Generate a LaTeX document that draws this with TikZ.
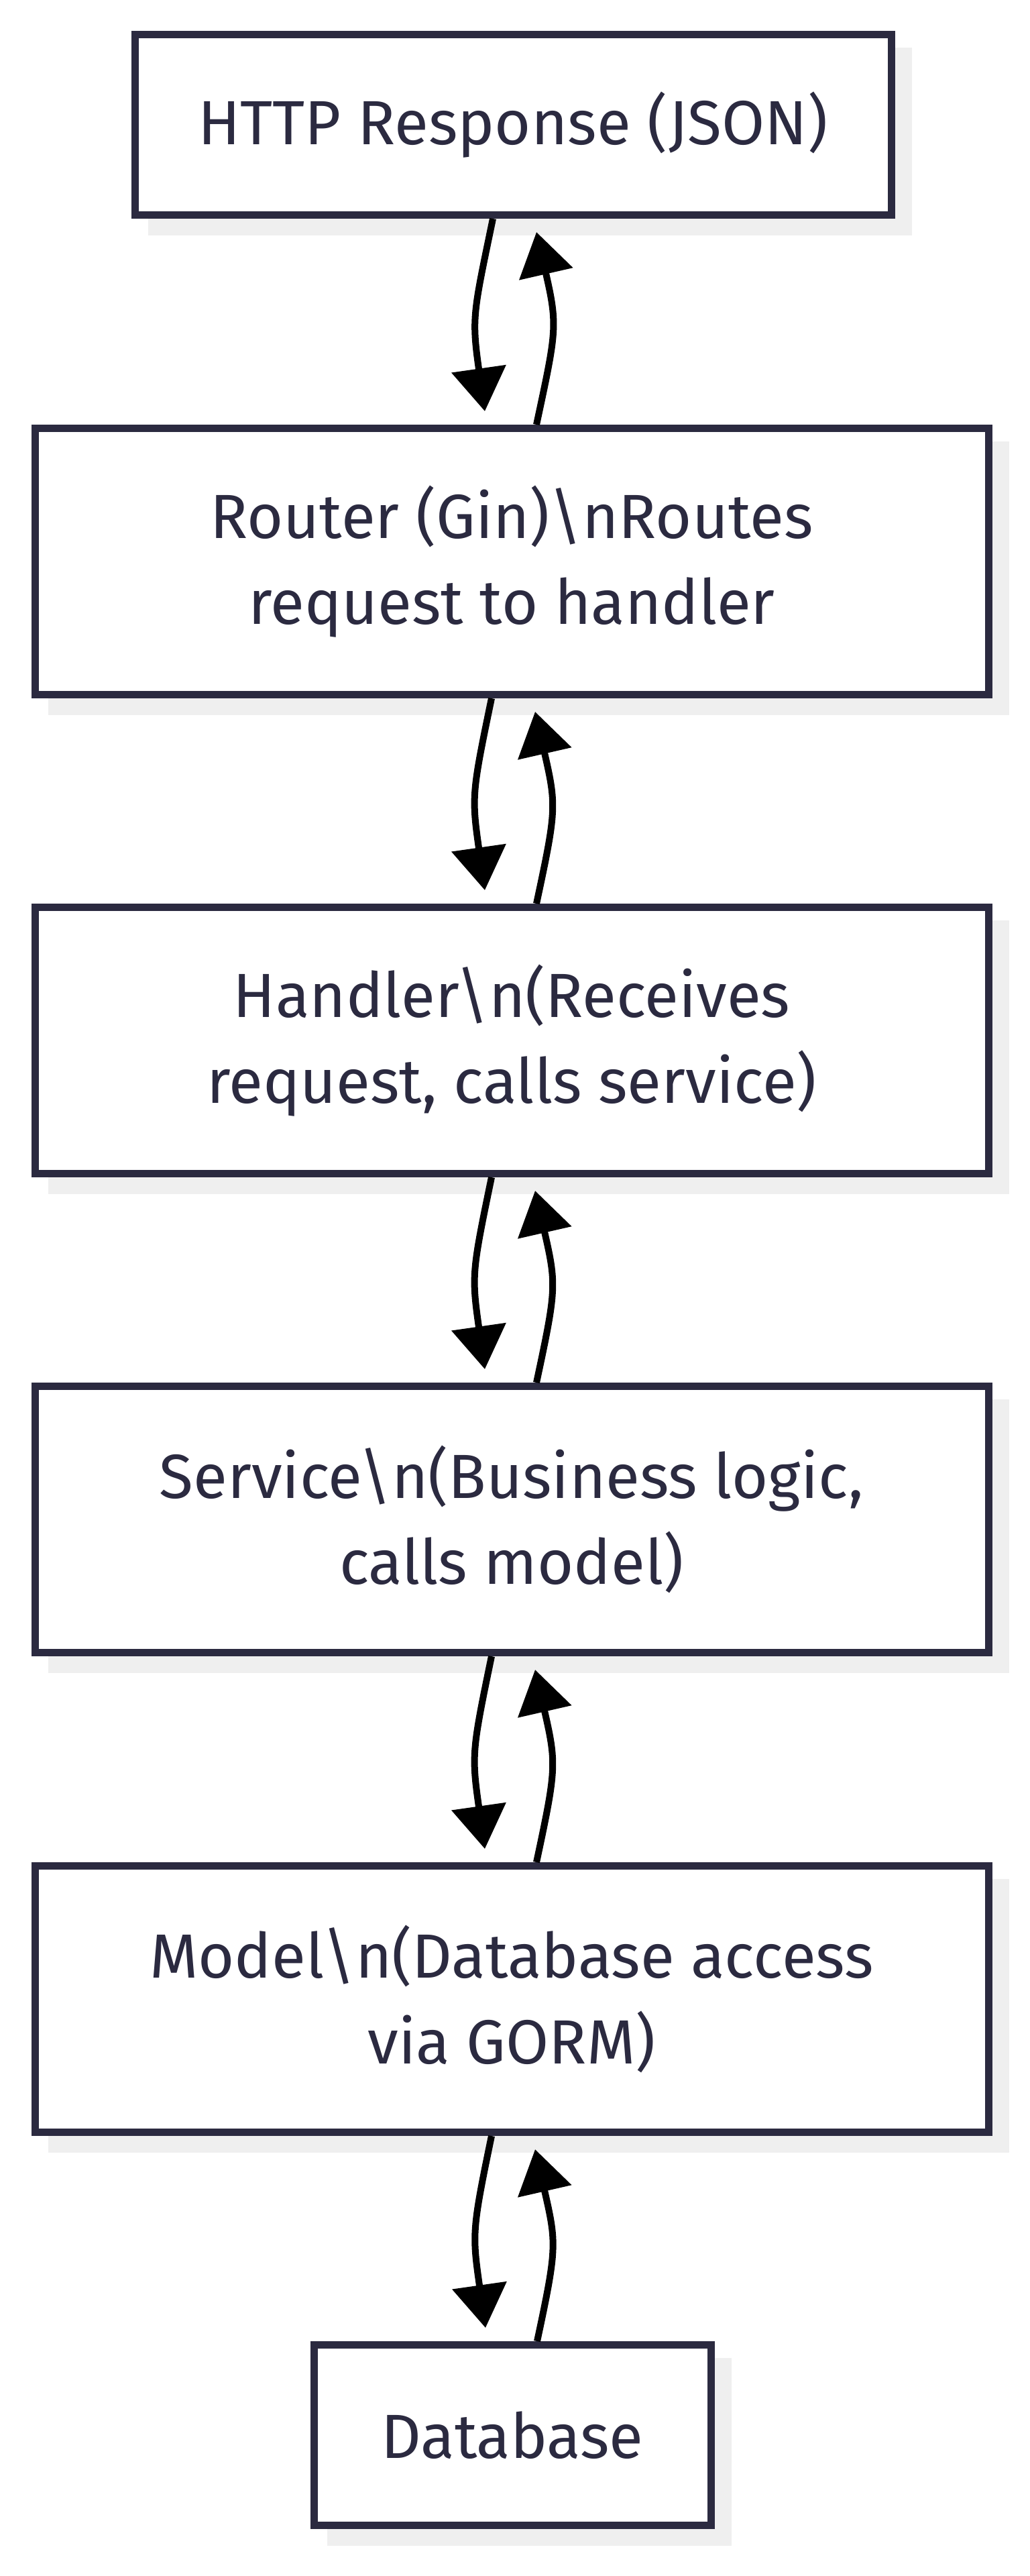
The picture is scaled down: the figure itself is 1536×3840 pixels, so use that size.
\documentclass[tikz,border=0pt]{standalone}
\usepackage{fontspec}
\setmainfont{Fira Sans}
\usetikzlibrary{arrows.meta,shadows,calc}
\definecolor{layerline}{HTML}{2B2A40}
\definecolor{layertext}{HTML}{2B2A40}
\definecolor{layershade}{HTML}{EFEFEF}
\tikzset{
  layer/.style={draw=layerline, line width=5.5pt, fill=white, text=layertext,
    align=center, inner sep=0pt, font=\fontsize{46.5}{64}\selectfont,
    drop shadow={shadow xshift=12.5pt, shadow yshift=-12.5pt, fill=layershade,
      draw=layershade, line width=5.5pt, opacity=1}},
  flow/.style={line width=5pt, -{Triangle[length=32pt,width=40pt]}}
}
\begin{document}
\begin{tikzpicture}[x=0.5pt,y=0.5pt,yscale=-1,xscale=1]
\useasboundingbox (0,0) rectangle (1536,3840); %page is 1536 wide, 3840 high

%Layers
\node[layer, minimum width=564pt, minimum height=134.5pt] (resp) at (765,186) {HTTP Response (JSON)};
\node[layer, minimum width=711pt, minimum height=198.5pt] (router) at (763,837) {Router (Gin)\textbackslash nRoutes\\request to handler};
\node[layer, minimum width=711pt, minimum height=198.5pt] (handler) at (763,1551) {Handler\textbackslash n(Receives\\request, calls service)};
\node[layer, minimum width=711pt, minimum height=198.5pt] (service) at (763,2265) {Service\textbackslash n(Business logic,\\calls model)};
\node[layer, minimum width=711pt, minimum height=198.5pt] (model) at (763,2980) {Model\textbackslash n(Database access\\via GORM)};
\node[layer, minimum width=296pt, minimum height=134.5pt] (db) at (764,3630) {Database};

%Arrows, down on the left and up on the right
\foreach \upper/\lower in {resp/router, router/handler, handler/service, service/model, model/db}{
  \draw[flow] ($(\upper.south)+(-30,0)$) .. controls +(-29,140) and +(-20,-140) .. ($(\lower.north)+(-40,-20)$);
  \draw[flow] ($(\lower.north)+(37,0)$) .. controls +(30,-140) and +(32,140) .. ($(\upper.south)+(35,20)$);
}

\end{tikzpicture}
\end{document}
